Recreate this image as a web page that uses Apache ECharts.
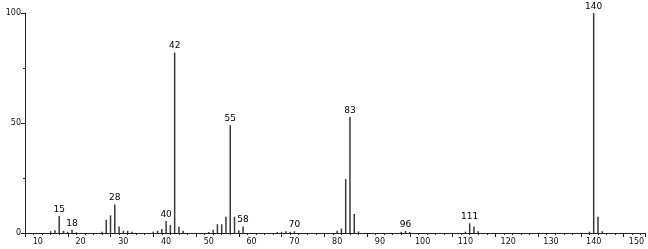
<!DOCTYPE html>
<html><head><meta charset="utf-8">
<script src="https://cdn.jsdelivr.net/npm/echarts@6/dist/echarts.min.js"></script>
<style>html,body{margin:0;padding:0;background:#fff}#c{width:648px;height:249px}</style>
</head><body><div id="c"></div>
<script>
const mz =        [13, 14, 15, 16, 17, 18, 19, 25, 26, 27, 28, 29, 30, 31, 32, 37, 38, 39, 40, 41, 42, 43, 44, 50, 51, 52, 53, 54, 55, 56, 57, 58, 66, 67, 68, 69, 70, 80, 81, 82, 83, 84, 85, 95, 96, 97, 110, 111, 112, 113, 139, 140, 141, 142];
const intensity = [0.8,1.2,7.7,1.0,0.6,1.5,0.3,0.6,6.0,8.0,13, 3.0,1.0,1.0,0.6,0.6,1.0,1.8,5.5,3.6,82, 3.0,1.0,0.5,1.5,4.0,4.0,7.4,49, 7.4,1.2,3.0,0.4,0.5,0.8,0.6,0.8,1.0,2.0,24.5,52.7,8.6,0.7,0.5,1.0,0.4,0.6,4.4,3.0,0.8,0.6,100,7.4,0.8];
const labeled = [15, 18, 28, 40, 42, 55, 58, 70, 83, 96, 111, 140];
const yTicks = [0, 50, 100];

const data = mz.map((m, i) => ({
  value: [m, intensity[i]],
  label: { show: labeled.includes(m) }
}));

const chart = echarts.init(document.getElementById('c'));
chart.setOption({
  animation: false,
  grid: { left: 25, right: 3, top: 13, bottom: 16 },
  xAxis: {
    type: 'value', min: 7, max: 152, interval: 10,
    axisLine: { lineStyle: { color: '#222', width: 1 } },
    axisTick: { show: true, length: 4, lineStyle: { color: '#222' } },
    minorTick: { show: true, splitNumber: 5, length: 2, lineStyle: { color: '#222' } },
    splitLine: { show: false },
    axisLabel: {
      fontFamily: 'DejaVu Sans', fontSize: 8, color: '#111', margin: 5,
      customValues: [10,20,30,40,50,60,70,80,90,100,110,120,130,140,150]
    }
  },
  yAxis: {
    type: 'value', min: 0, max: 100, interval: 50,
    axisLine: { show: true, lineStyle: { color: '#222', width: 1 } },
    axisTick: { show: true, length: 4, lineStyle: { color: '#222' } },
    minorTick: { show: true, splitNumber: 2, length: 2, lineStyle: { color: '#222' } },
    splitLine: { show: false },
    axisLabel: {
      fontFamily: 'DejaVu Sans', fontSize: 8, color: '#111', margin: 4,
      formatter: v => yTicks.includes(v) ? String(v) : ''
    }
  },
  series: [{
    type: 'bar',
    barWidth: 1.5,
    data: data,
    itemStyle: { color: '#3a3a3a' },
    label: {
      position: 'top', distance: 2,
      fontFamily: 'DejaVu Sans', fontSize: 9, color: '#000',
      formatter: p => String(p.value[0])
    }
  }]
});
</script></body></html>
